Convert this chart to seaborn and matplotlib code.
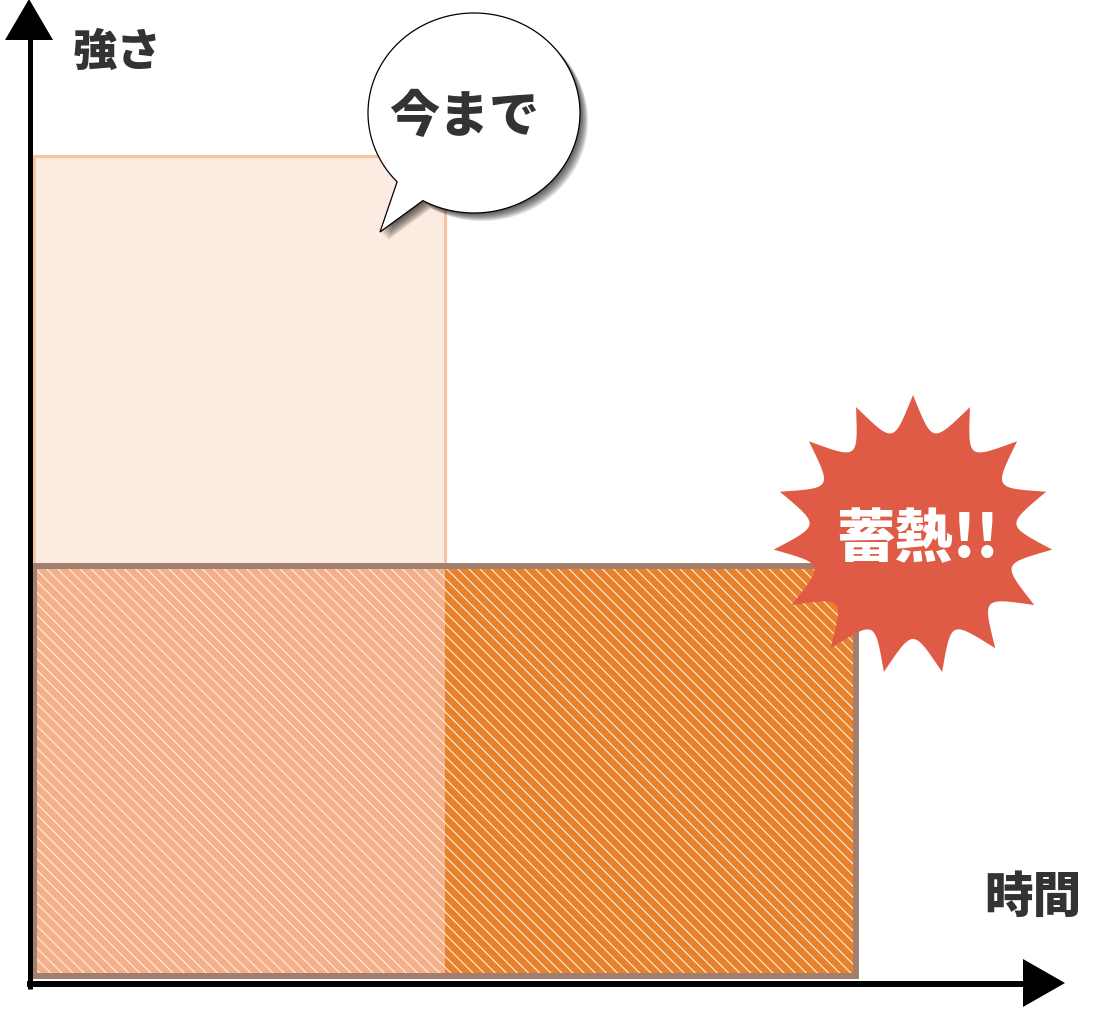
import numpy as np
import matplotlib
matplotlib.use("Agg")
import matplotlib.pyplot as plt
from matplotlib.patches import Polygon
from matplotlib.transforms import Affine2D
import seaborn as sns

# concept data: relative duration / strength of each way of working
phases = ["今まで", "蓄熱"]
durations = [1.0, 2.0]
intensities = [1.0, 0.5]
x_label = "時間"
y_label = "強さ"
burst_label = "蓄熱!!"

W, H = 1100, 1012
X0, Y0 = 34, 977          # pixel position of data origin
PX_X, PX_Y = 411, 820     # pixels per data unit

LIGHT = "#fcebe0"
LIGHT_EDGE = "#f6c5a3"
HATCH_LEFT = "#f4b08a"
HATCH_RIGHT = "#e8812c"
STRIPE = "#fff2dc"
BROWN = "#a27e6f"
RED = "#e05b45"
TEXT = "#333333"

sns.set_theme(style="white")
plt.rcParams["font.family"] = ["Noto Sans CJK JP", "DejaVu Sans"]
plt.rcParams["hatch.linewidth"] = 0.8

fig = plt.figure(figsize=(W / 100, H / 100), dpi=100)
ax = fig.add_axes([0, 0, 1, 1])
pix = Affine2D().scale(1 / W, -1 / H).translate(0, 1) + fig.transFigure

# "今まで": short and strong
n0 = len(ax.patches)
sns.histplot(x=[durations[0] / 2], weights=[intensities[0]], bins=[0, durations[0]],
             color=LIGHT, alpha=1, ax=ax)
light = ax.patches[n0]
light.set(facecolor=LIGHT, edgecolor=LIGHT_EDGE, linewidth=2.2, zorder=1)

# "蓄熱": long and weak, split at the end of the old period
n1 = len(ax.patches)
sns.histplot(x=[durations[0] / 2, (durations[0] + durations[1]) / 2],
             weights=[intensities[1]] * 2, bins=[0, durations[0], durations[1]],
             color=HATCH_RIGHT, alpha=1, ax=ax)
for p, c in zip(ax.patches[n1:], [HATCH_LEFT, HATCH_RIGHT]):
    p.set(facecolor=c, edgecolor=STRIPE, linewidth=0, hatch="\\\\\\", zorder=2)

ax.bar(0, intensities[1], width=durations[1], align="edge", fill=False,
       edgecolor=BROWN, linewidth=4.3, zorder=3)

ax.set_xlim(-X0 / PX_X, (W - X0) / PX_X)
ax.set_ylim(-(H - Y0) / PX_Y, Y0 / PX_Y)
ax.set_axis_off()

# axes with arrows
ax.plot([29.5, 29.5], [990, 30], color="black", lw=3.6, solid_capstyle="butt",
        transform=pix, zorder=4, clip_on=False)
ax.add_patch(Polygon([(5, 41), (53, 41), (29, 0)], closed=True, color="black",
                     lw=0, transform=pix, zorder=4, clip_on=False))
ax.plot([27, 1030], [985, 985], color="black", lw=4.3, solid_capstyle="butt",
        transform=pix, zorder=4, clip_on=False)
ax.add_patch(Polygon([(1023, 960), (1023, 1008), (1065, 984)], closed=True,
                     color="black", lw=0, transform=pix, zorder=4, clip_on=False))

ax.text(117, 52, y_label, transform=pix, ha="center", va="center",
        fontsize=32, fontweight="black", color=TEXT)
ax.text(1033, 898, x_label, transform=pix, ha="center", va="center",
        fontsize=35, fontweight="black", color=TEXT)

# speech bubble
cx, cy, rx, ry = 474, 114, 106, 100
a = np.radians(np.linspace(136.5, 118.8 + 360, 200))
bx = cx + rx * np.cos(a)
by = cy + ry * np.sin(a)
bubble = list(zip(bx, by)) + [(380, 233)]
for k in range(1, 9):
    sh = [(x + k, y + k) for x, y in bubble]
    ax.add_patch(Polygon(sh, closed=True, facecolor="black", alpha=0.11, lw=0,
                         transform=pix, zorder=5, clip_on=False))
ax.add_patch(Polygon(bubble, closed=True, facecolor="white", edgecolor="black",
                     lw=0.9, transform=pix, zorder=5, clip_on=False))
ax.text(464, 117, phases[0], transform=pix, ha="center", va="center",
        fontsize=36, fontweight="black", color=TEXT, zorder=6)

# burst
sx, sy, r_out, r_in, n = 913, 536, 140, 104, 15
t = np.linspace(0, 2 * np.pi, 1500, endpoint=False)
u = np.abs(((t / (2 * np.pi / n)) + 0.5) % 1 - 0.5) * 2
r = r_in + (r_out - r_in) * (1 - u) ** 2
star = list(zip(sx + r * np.sin(t), sy - r * np.cos(t)))
ax.add_patch(Polygon(star, closed=True, facecolor=RED, lw=0, transform=pix,
                     zorder=5, clip_on=False))
ax.text(918, 540, burst_label, transform=pix, ha="center", va="center",
        fontsize=42, fontweight="black", color="white", zorder=6)

fig.savefig("out.png", dpi=100)
